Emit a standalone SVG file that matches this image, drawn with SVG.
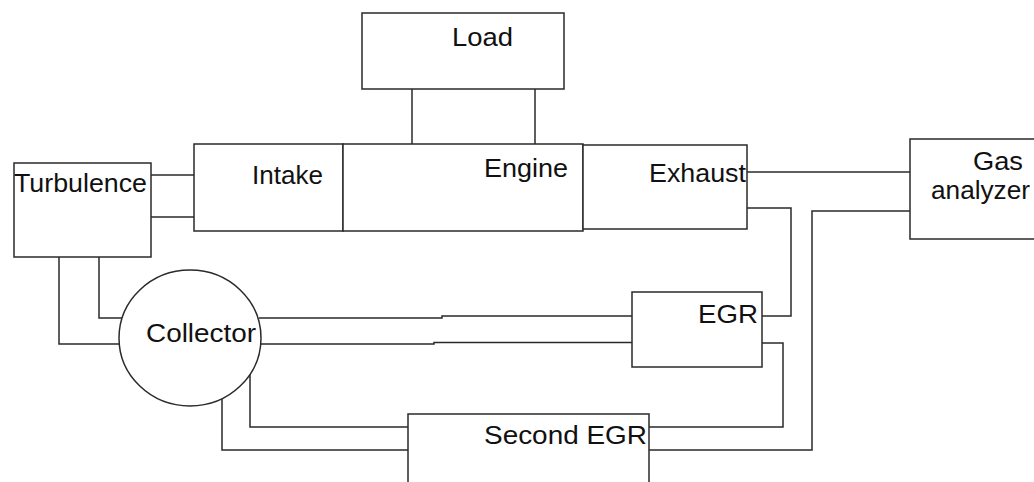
<svg xmlns="http://www.w3.org/2000/svg" width="1034" height="482" viewBox="0 0 1034 482">
  <style>
    .box { fill: #ffffff; stroke: #2a2a2a; stroke-width: 1.5; }
    .wire { fill: none; stroke: #2a2a2a; stroke-width: 1.5; }
    .lbl { font-family: "Liberation Sans", Arial, sans-serif; font-size: 25px; fill: #111111; }
  </style>
  <rect width="1034" height="482" fill="#ffffff"/>

  <!-- connectors -->
  <g id="connectors">
    <!-- load shaft -->
    <path class="wire" d="M412,89 V144"/>
    <path class="wire" d="M535,88 V144"/>
    <!-- turbulence to intake -->
    <path class="wire" d="M151,175 H196"/>
    <path class="wire" d="M151,217 H194"/>
    <!-- turbulence to collector -->
    <path class="wire" d="M59,257 V344 H120"/>
    <path class="wire" d="M99,257 V318 H122"/>
    <!-- collector to EGR -->
    <path class="wire" d="M259,318 H442 V316 H634"/>
    <path class="wire" d="M261,344 H434 V342.5 H632"/>
    <!-- collector to second EGR -->
    <path class="wire" d="M250,374 V427 H408"/>
    <path class="wire" d="M222,398 V450 H408"/>
    <!-- exhaust to gas analyzer -->
    <path class="wire" d="M747,172 H910"/>
    <!-- exhaust to EGR -->
    <path class="wire" d="M747,208 H791 V316 H762"/>
    <!-- EGR to second EGR -->
    <path class="wire" d="M762,343 H783 V427 H649"/>
    <!-- gas analyzer to second EGR -->
    <path class="wire" d="M910,211 H812 V450 H649"/>
  </g>

  <g id="load">
    <rect class="box" x="362" y="13" width="202" height="76"/>
    <text class="lbl" x="452" y="46" textLength="61" lengthAdjust="spacingAndGlyphs">Load</text>
  </g>

  <g id="intake">
    <rect class="box" x="194" y="144" width="149" height="87"/>
    <text class="lbl" x="252" y="184" textLength="71" lengthAdjust="spacingAndGlyphs">Intake</text>
  </g>

  <g id="engine">
    <rect class="box" x="343" y="144" width="240" height="87"/>
    <text class="lbl" x="484" y="177" textLength="84" lengthAdjust="spacingAndGlyphs">Engine</text>
  </g>

  <g id="exhaust">
    <rect class="box" x="583" y="145" width="164" height="84"/>
    <text class="lbl" x="649" y="182" textLength="97" lengthAdjust="spacingAndGlyphs">Exhaust</text>
  </g>

  <g id="gas-analyzer">
    <rect class="box" x="910" y="139" width="140" height="100"/>
    <text class="lbl" x="973" y="170" textLength="50" lengthAdjust="spacingAndGlyphs">Gas</text>
    <text class="lbl" x="931" y="199" textLength="99" lengthAdjust="spacingAndGlyphs">analyzer</text>
  </g>

  <g id="turbulence">
    <rect class="box" x="14" y="163" width="137" height="94"/>
    <text class="lbl" x="14" y="192" textLength="133" lengthAdjust="spacingAndGlyphs">Turbulence</text>
  </g>

  <g id="collector">
    <ellipse class="box" cx="190" cy="338" rx="71" ry="68"/>
    <text class="lbl" x="146" y="342" textLength="110" lengthAdjust="spacingAndGlyphs">Collector</text>
  </g>

  <g id="egr">
    <rect class="box" x="632" y="292" width="130" height="75"/>
    <text class="lbl" x="698" y="323" textLength="60" lengthAdjust="spacingAndGlyphs">EGR</text>
  </g>

  <g id="second-egr">
    <rect class="box" x="408" y="414" width="241" height="80"/>
    <text class="lbl" x="484" y="444" textLength="163" lengthAdjust="spacingAndGlyphs">Second EGR</text>
  </g>
</svg>
